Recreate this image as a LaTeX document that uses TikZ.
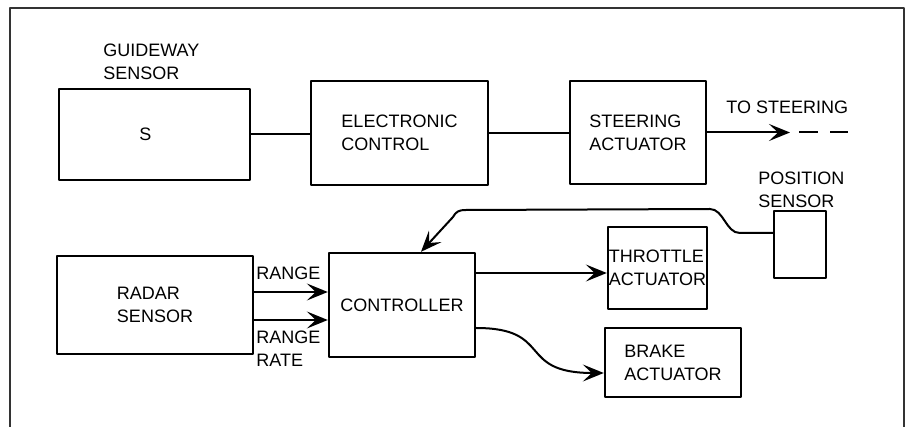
\documentclass[tikz,border=0pt]{standalone}
\usepackage{fontspec}
\setmainfont{Liberation Sans}
\usetikzlibrary{arrows.meta,calc}

\begin{document}
\begin{tikzpicture}[
    x=0.5pt,
    y=-0.5pt,
    >={Stealth[length=10.5pt,width=8.5pt,inset=4.5pt]},
    line join=round,
    every node/.style={font=\fontsize{9}{11.5}\selectfont},
    caja/.style={draw, line width=1.2pt, inner sep=0pt, align=left},
    rotulo/.style={inner sep=0pt, align=left, anchor=west},
    flecha/.style={->, line width=1pt},
    linea/.style={line width=1pt}
]

\useasboundingbox (0,0) rectangle (906,427);
\draw[line width=1pt, black!80] (10,427) -- (10,8) -- (904,8) -- (904,427);

% upper row
\node[caja, minimum width=95.5pt, minimum height=45.5pt] (guia) at (154.5,134.5) {S\hspace{9pt}};
\node[caja, minimum width=88.5pt, minimum height=52pt] (electronico) at (399.5,133) {ELECTRONIC\\CONTROL};
\node[caja, minimum width=68pt, minimum height=51.5pt] (direccion) at (638,132.5) {STEERING\\ACTUATOR};
\coordinate (salida) at (790,132.5);

\node[rotulo] (rotguia) at (103,62) {GUIDEWAY\\SENSOR};
\node[rotulo] (rotsalida) at (726,107) {TO STEERING};

\draw[linea] (guia.east) -- (guia.east -| electronico.west);
\draw[linea] (electronico.east) -- (electronico.east -| direccion.west);
\draw[flecha] (direccion.east) -- (salida);
\draw[linea, dash pattern=on 9.5pt off 6pt] ([xshift=4.5pt]salida) -- ([xshift=29pt]salida);

% lower row
\node[caja, minimum width=98pt, minimum height=49pt] (radar) at (155,305) {RADAR\\SENSOR};
\node[caja, minimum width=73pt, minimum height=52pt] (control) at (402,305) {CONTROLLER};
\node[caja, minimum width=49.5pt, minimum height=41pt] (acelerador) at (657.5,268) {THROTTLE\\ACTUATOR};
\node[caja, minimum width=68pt, minimum height=34.5pt] (freno) at (673,362.5) {BRAKE\\ACTUATOR};
\node[caja, minimum width=26pt, minimum height=33.5pt] (posicion) at (800,244.5) {};

\node[rotulo] (rotrango) at (256,273) {RANGE};
\node[rotulo] (rotvel) at (256,349) {RANGE\\RATE};
\node[rotulo] (rotpos) at (758,189.5) {POSITION\\SENSOR};

\draw[flecha] ([yshift=6.5pt]radar.east) -- ([yshift=6.5pt]radar.east -| control.west);
\draw[flecha] ([yshift=-7.5pt]radar.east) -- ([yshift=-7.5pt]radar.east -| control.west);
\draw[flecha] ([yshift=16pt]control.east) -- ([yshift=16pt]control.east -| acelerador.west);
\draw[flecha] ([yshift=-11.5pt]control.east)
    .. controls +(78,0) and +(-88,0) .. ([yshift=-5.25pt]freno.west);
\draw[flecha] ([yshift=5.75pt]posicion.west) -- ++(-33,0)
    .. controls +(-14,0) and +(14,0) .. ++(-30,-24)
    -- (466,210) .. controls (458,210) and (456,212) .. (453,217)
    -- ([xshift=9.5pt]control.north);

\end{tikzpicture}
\end{document}
